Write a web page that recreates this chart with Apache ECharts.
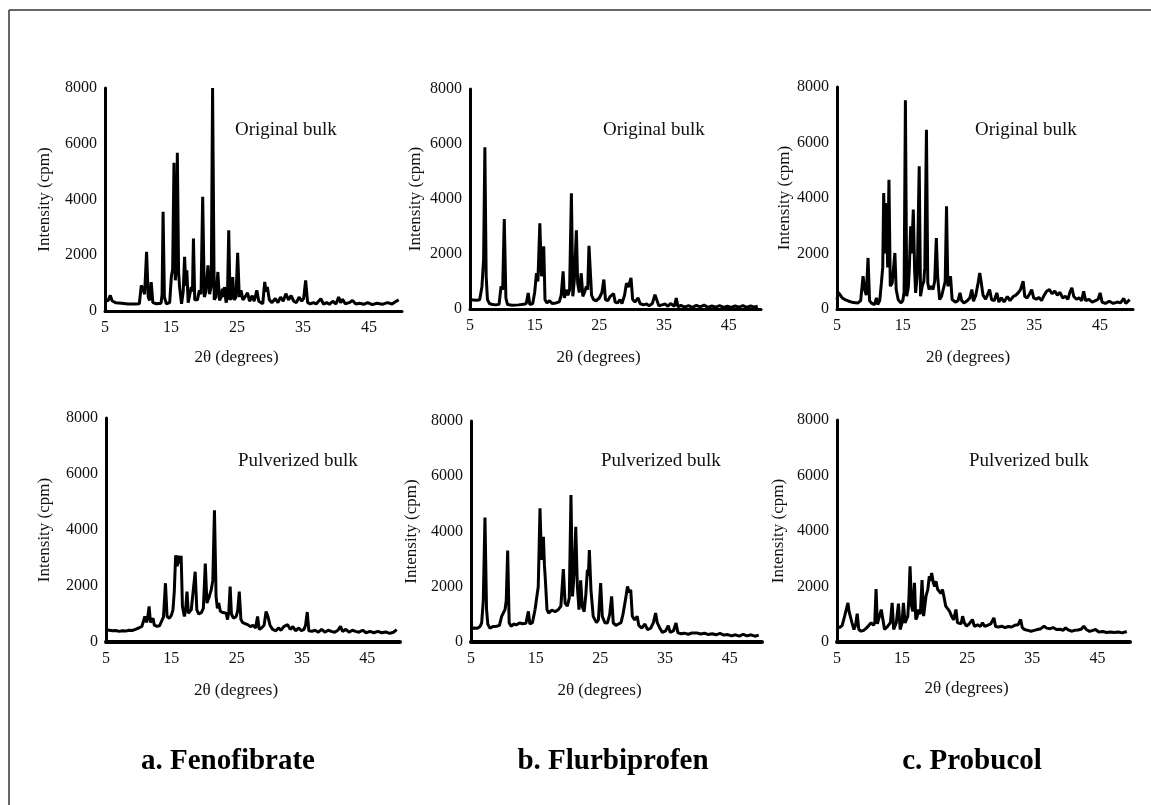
<!DOCTYPE html>
<html>
<head>
<meta charset="utf-8">
<title>XRD patterns</title>
<script src="https://cdn.jsdelivr.net/npm/echarts@6/dist/echarts.min.js"></script>
<style>
  html, body { margin: 0; padding: 0; background: #fff; }
  #chart { width: 1151px; height: 805px; }
</style>
</head>
<body>
<div id="chart"></div>
<script>
// x ticks and y ticks
const xTickLabels = [5, 15, 25, 35, 45];
const yTicks = [0, 2000, 4000, 6000, 8000];

const panelNotes = ['Original bulk', 'Original bulk', 'Original bulk', 'Pulverized bulk', 'Pulverized bulk', 'Pulverized bulk'];
const drugNames = ['a. Fenofibrate', 'b. Flurbiprofen', 'c. Probucol'];

// [2theta (deg), intensity (cpm)]
const fenoOrig = [[5,350],[5.5,380],[5.8,560],[6.1,360],[6.6,300],[7.5,280],[8.5,250],[9.5,250],[10.2,260],[10.5,920],[10.8,980],[11.0,600],[11.3,2120],[11.55,500],[11.75,380],[12.0,1040],[12.25,300],[12.8,260],[13.5,280],[13.65,600],[13.8,3560],[14.0,500],[14.3,260],[14.8,300],[15.05,1220],[15.25,1500],[15.45,5320],[15.65,1100],[15.8,1500],[15.96,5680],[16.15,1400],[16.3,860],[16.6,260],[16.85,700],[17.06,1940],[17.25,900],[17.4,1460],[17.6,300],[17.9,350],[18.07,860],[18.25,700],[18.4,2600],[18.6,400],[19.0,400],[19.3,740],[19.55,600],[19.8,4100],[20.05,500],[20.3,700],[20.6,1640],[20.85,600],[21.1,900],[21.3,8000],[21.55,400],[21.8,500],[22.1,1400],[22.35,380],[22.6,500],[22.8,800],[23.0,500],[23.1,860],[23.35,300],[23.55,500],[23.75,2900],[23.95,400],[24.15,500],[24.35,1220],[24.55,400],[24.85,500],[25.1,2090],[25.35,500],[25.6,740],[25.9,400],[26.2,500],[26.6,650],[26.9,350],[27.3,550],[27.6,350],[28.0,740],[28.3,350],[28.6,300],[28.9,260],[29.2,1040],[29.4,700],[29.6,860],[29.9,400],[30.3,300],[30.8,450],[31.2,300],[31.6,500],[32.0,350],[32.4,620],[32.8,400],[33.2,550],[33.6,350],[34.0,300],[34.4,500],[34.8,350],[35.1,450],[35.4,1100],[35.7,300],[36.1,260],[36.6,300],[37.0,250],[37.7,440],[38.1,250],[38.6,300],[39.0,240],[39.5,350],[40.0,250],[40.4,500],[40.7,300],[41.0,420],[41.4,260],[42.0,300],[42.5,380],[43.0,250],[43.6,280],[44.2,240],[44.8,300],[45.5,230],[46.2,280],[47.0,240],[47.8,300],[48.5,250],[49.0,330],[49.5,400]];

const flurOrig = [[5,340],[5.5,330],[6.0,320],[6.5,340],[6.85,820],[7.1,1800],[7.3,5880],[7.5,1200],[7.7,340],[8.0,200],[8.5,160],[9.0,150],[9.5,170],[9.8,820],[10.05,700],[10.3,3270],[10.55,400],[10.8,160],[11.5,140],[12.5,150],[13.3,170],[13.7,200],[14.0,580],[14.25,160],[14.7,200],[15.0,600],[15.28,1300],[15.5,1000],[15.8,3120],[16.05,1190],[16.2,1400],[16.4,2280],[16.6,340],[16.9,220],[17.3,300],[17.7,200],[18.3,220],[18.8,260],[19.1,500],[19.4,1370],[19.6,400],[19.9,700],[20.15,500],[20.4,700],[20.68,4210],[20.9,460],[21.15,1100],[21.45,2860],[21.65,940],[21.9,600],[22.2,1300],[22.45,460],[22.7,600],[23.0,820],[23.2,700],[23.4,2300],[23.6,2280],[23.8,500],[24.1,340],[24.5,300],[25.0,400],[25.4,600],[25.7,1070],[25.95,340],[26.3,300],[26.7,460],[27.0,520],[27.2,560],[27.45,250],[27.8,220],[28.2,340],[28.5,200],[28.9,500],[29.2,940],[29.5,800],[29.9,1130],[30.15,350],[30.5,250],[31.0,400],[31.3,200],[31.8,150],[32.3,180],[32.7,120],[33.2,200],[33.6,520],[33.9,460],[34.2,120],[34.7,150],[35.2,180],[35.6,100],[36.0,200],[36.6,100],[36.9,400],[37.15,80],[37.6,130],[38.2,70],[38.8,120],[39.4,60],[40.0,130],[40.6,80],[41.2,140],[41.8,60],[42.4,110],[43.0,70],[43.6,120],[44.2,60],[44.8,100],[45.4,60],[46.0,110],[46.6,70],[47.2,120],[47.8,60],[48.4,110],[49.0,70],[49.5,100]];

const probOrig = [[5,340],[5.2,600],[5.5,580],[5.8,400],[6.2,340],[6.8,280],[7.5,230],[8.2,220],[8.6,300],[8.96,1180],[9.2,700],[9.45,500],[9.72,1840],[9.95,300],[10.3,200],[10.7,160],[11.0,400],[11.2,160],[11.5,300],[11.75,940],[11.95,1500],[12.1,4180],[12.3,2000],[12.5,3820],[12.7,1500],[12.9,4660],[13.1,820],[13.4,940],[13.6,1000],[13.8,2020],[14.0,700],[14.3,340],[14.7,220],[15.0,300],[15.2,600],[15.4,7520],[15.6,460],[15.85,800],[16.0,1500],[16.2,2980],[16.35,2000],[16.6,3580],[16.8,1420],[16.95,580],[17.2,1200],[17.5,5140],[17.7,460],[17.95,820],[18.2,1000],[18.35,1500],[18.6,6460],[18.8,940],[19.0,700],[19.3,820],[19.6,700],[19.85,1000],[20.1,2560],[20.3,1180],[20.6,340],[20.9,460],[21.2,400],[21.45,1000],[21.65,3700],[21.85,820],[22.05,800],[22.26,1180],[22.5,340],[23.0,250],[23.4,300],[23.7,580],[23.95,300],[24.3,220],[24.8,300],[25.2,400],[25.5,700],[25.75,280],[26.1,500],[26.45,940],[26.7,1300],[26.9,1000],[27.2,500],[27.6,350],[27.9,400],[28.2,700],[28.5,340],[28.9,300],[29.3,580],[29.6,250],[30.0,400],[30.4,250],[30.9,450],[31.3,300],[31.8,450],[32.2,500],[32.6,600],[32.9,700],[33.3,1000],[33.55,450],[33.9,400],[34.3,550],[34.6,700],[34.9,400],[35.3,350],[35.7,420],[36.1,300],[36.5,500],[36.9,650],[37.3,700],[37.7,550],[38.1,650],[38.5,500],[38.9,600],[39.3,400],[39.7,460],[40.1,350],[40.4,600],[40.7,760],[41.0,450],[41.4,350],[41.8,400],[42.2,300],[42.5,640],[42.8,300],[43.3,350],[43.8,250],[44.3,300],[44.7,350],[45.0,580],[45.3,250],[45.8,200],[46.4,280],[47.0,200],[47.6,250],[48.1,220],[48.6,380],[48.9,200],[49.5,340]];

const fenoPulv = [[5,440],[5.5,420],[6.0,400],[6.5,410],[7.0,380],[7.5,400],[8.0,390],[8.5,420],[9.0,410],[9.5,450],[10.0,500],[10.5,560],[10.8,800],[10.94,910],[11.2,700],[11.4,900],[11.6,1270],[11.8,700],[12.0,650],[12.2,850],[12.4,600],[12.8,560],[13.2,580],[13.5,620],[13.8,900],[14.1,2100],[14.35,910],[14.7,850],[15.0,950],[15.25,1150],[15.45,1800],[15.66,3100],[15.9,2700],[16.1,3080],[16.3,2800],[16.5,3080],[16.7,1270],[17.0,910],[17.2,1200],[17.4,1800],[17.6,1030],[17.85,1000],[18.05,1150],[18.3,1200],[18.65,2510],[18.9,1150],[19.2,1000],[19.6,1050],[19.9,1200],[20.2,2800],[20.45,1390],[20.8,1620],[21.1,1860],[21.35,2200],[21.6,4700],[21.85,1620],[22.05,1200],[22.26,1390],[22.5,1100],[22.9,1050],[23.2,1100],[23.4,1030],[23.6,800],[23.8,1100],[24.0,1980],[24.2,1000],[24.5,850],[24.9,900],[25.15,1100],[25.4,1800],[25.65,800],[25.9,700],[26.3,650],[26.7,620],[27.1,550],[27.5,600],[27.9,500],[28.2,910],[28.45,450],[28.8,500],[29.2,600],[29.5,1090],[29.8,900],[30.1,600],[30.5,450],[31.0,400],[31.4,500],[31.8,420],[32.2,550],[32.8,620],[33.2,450],[33.6,550],[34.0,400],[34.5,500],[34.9,400],[35.3,450],[35.55,600],[35.8,1070],[36.05,400],[36.5,380],[37.0,420],[37.5,350],[38.0,450],[38.5,350],[39.0,420],[39.5,380],[40.0,350],[40.5,420],[40.9,560],[41.2,380],[41.7,450],[42.2,350],[42.7,420],[43.2,380],[43.7,350],[44.3,420],[44.8,330],[45.4,380],[46.0,330],[46.6,380],[47.2,330],[47.8,360],[48.4,310],[49.0,350],[49.5,440]];

const flurPulv = [[5,500],[5.5,510],[6.0,500],[6.4,560],[6.65,690],[6.9,1500],[7.16,4510],[7.4,1200],[7.6,640],[7.94,500],[8.4,560],[9.0,570],[9.4,600],[9.74,930],[10.0,900],[10.26,1170],[10.45,1500],[10.67,3310],[10.9,700],[11.2,570],[11.6,650],[12.0,620],[12.5,690],[13.0,660],[13.5,680],[13.87,1110],[14.1,650],[14.5,700],[14.9,1170],[15.15,1590],[15.4,2000],[15.67,4840],[15.9,2970],[16.05,3000],[16.2,3810],[16.35,2800],[16.5,2250],[16.75,1170],[17.0,1050],[17.5,1150],[18.0,1100],[18.5,1170],[18.9,1300],[19.28,2640],[19.55,1410],[19.9,1300],[20.2,1600],[20.46,5320],[20.7,1650],[20.95,2500],[21.2,4170],[21.45,2000],[21.7,1170],[21.96,2230],[22.2,1290],[22.5,1100],[22.75,1700],[23.0,2610],[23.15,2400],[23.3,3330],[23.55,1890],[23.9,930],[24.4,700],[24.7,800],[25.05,2130],[25.3,930],[25.7,700],[26.1,690],[26.45,1000],[26.75,1650],[27.0,690],[27.4,600],[27.8,650],[28.2,700],[28.5,1000],[28.8,1410],[29.0,1700],[29.2,2010],[29.45,1800],[29.7,1890],[29.95,930],[30.3,800],[30.7,930],[30.95,600],[31.4,500],[31.9,650],[32.3,450],[32.8,500],[33.2,700],[33.55,1050],[33.8,700],[34.2,500],[34.6,350],[35.1,400],[35.5,590],[35.8,350],[36.3,400],[36.7,690],[37.0,330],[37.5,300],[38.0,320],[38.6,280],[39.2,330],[39.9,330],[40.5,290],[41.1,320],[41.7,270],[42.3,300],[42.9,260],[43.5,310],[44.1,250],[44.7,270],[45.3,220],[45.9,260],[46.5,210],[47.1,280],[47.7,220],[48.3,260],[48.9,210],[49.5,250]];

const probPulv = [[5,570],[5.4,520],[5.8,600],[6.17,930],[6.4,900],[6.68,1410],[6.85,1100],[7.04,1170],[7.3,700],[7.6,450],[7.85,600],[8.1,1020],[8.35,450],[8.7,390],[9.1,420],[9.5,500],[9.9,600],[10.25,690],[10.6,600],[10.8,700],[11.0,1910],[11.2,650],[11.5,600],[11.8,1170],[12.05,1100],[12.3,450],[12.8,570],[13.2,700],[13.47,1410],[13.7,450],[14.1,690],[14.44,1380],[14.7,450],[15.0,700],[15.2,1410],[15.45,690],[15.87,930],[16.05,1600],[16.22,2730],[16.45,1290],[16.65,1100],[16.9,2130],[17.1,810],[17.3,900],[17.5,1170],[17.8,1000],[18.06,2230],[18.3,930],[18.67,1650],[18.95,1900],[19.18,2370],[19.35,2200],[19.54,2490],[19.8,2130],[20.0,2000],[20.2,2190],[20.45,1900],[20.7,1830],[20.95,1750],[21.2,1890],[21.45,1600],[21.7,1290],[22.0,1300],[22.3,1100],[22.6,930],[22.9,800],[23.27,1170],[23.5,700],[23.8,750],[24.05,650],[24.29,930],[24.55,700],[24.9,570],[25.3,650],[25.8,810],[26.1,560],[26.6,620],[27.0,560],[27.35,690],[27.7,560],[28.1,600],[28.6,650],[29.1,870],[29.35,560],[29.8,540],[30.3,570],[30.8,520],[31.3,560],[31.8,540],[32.3,600],[32.8,620],[33.2,810],[33.45,520],[33.8,450],[34.3,420],[34.8,390],[35.3,420],[35.8,450],[36.3,480],[36.8,570],[37.2,500],[37.7,480],[38.2,520],[38.7,450],[39.3,460],[39.7,420],[40.1,510],[40.5,440],[41.0,390],[41.5,420],[42.0,430],[42.5,460],[42.9,570],[43.3,450],[43.8,380],[44.3,420],[44.7,450],[45.2,360],[45.8,380],[46.4,340],[47.0,360],[47.6,340],[48.2,360],[48.8,330],[49.5,380]];

const allSeries = [fenoOrig, flurOrig, probOrig, fenoPulv, flurPulv, probPulv];

// panel layout (pixels)
const panels = [
  { left: 105, top: 88, width: 297, height: 223, yGap: 52, xGap: 38, xw: 3, note: [235, 132] },
  { left: 470, top: 89, width: 291, height: 220, yGap: 46, xGap: 40, xw: 3, note: [603, 132] },
  { left: 837, top: 87, width: 296, height: 222, yGap: 42, xGap: 40, xw: 3, note: [975, 132] },
  { left: 106, top: 418, width: 294, height: 224, yGap: 53, xGap: 40, xw: 4, note: [238, 463] },
  { left: 471, top: 421, width: 291, height: 221, yGap: 51, xGap: 40, xw: 4, note: [601, 463] },
  { left: 837, top: 420, width: 293, height: 222, yGap: 50, xGap: 38, xw: 4, note: [969, 463] }
];

const FONT = '"Liberation Serif", "Times New Roman", serif';

const chart = echarts.init(document.getElementById('chart'), null, { renderer: 'canvas' });

const option = {
  animation: false,
  backgroundColor: '#fff',
  grid: panels.map(p => ({ left: p.left, top: p.top, width: p.width, height: p.height })),
  xAxis: panels.map((p, i) => ({
    type: 'value',
    gridIndex: i,
    min: 5,
    max: 50,
    interval: 5,
    name: '2θ (degrees)',
    nameLocation: 'middle',
    nameGap: p.xGap,
    nameTextStyle: { fontFamily: FONT, fontSize: 17, color: '#111', padding: [0, 34, 0, 0] },
    axisLine: { show: true, lineStyle: { color: '#000', width: p.xw } },
    axisTick: { show: false },
    splitLine: { show: false },
    axisLabel: {
      fontFamily: FONT, fontSize: 16, color: '#111', margin: 9,
      formatter: v => xTickLabels.includes(v) ? String(v) : ''
    }
  })),
  yAxis: panels.map((p, i) => ({
    type: 'value',
    gridIndex: i,
    min: yTicks[0],
    max: yTicks[yTicks.length - 1],
    interval: 2000,
    name: 'Intensity (cpm)',
    nameLocation: 'middle',
    nameGap: p.yGap,
    nameTextStyle: { fontFamily: FONT, fontSize: 17, color: '#111' },
    axisLine: { show: true, lineStyle: { color: '#000', width: 3 } },
    axisTick: { show: false },
    splitLine: { show: false },
    axisLabel: { fontFamily: FONT, fontSize: 16, color: '#111', margin: 8, formatter: v => String(v) }
  })),
  series: allSeries.map((d, i) => ({
    type: 'line',
    xAxisIndex: i,
    yAxisIndex: i,
    data: d,
    showSymbol: false,
    symbol: 'none',
    lineStyle: { color: '#000', width: 3 },
    silent: true
  })),
  graphic: [
    // frame lines
    { type: 'line', shape: { x1: 9, y1: 10, x2: 1151, y2: 10 }, style: { stroke: '#333', lineWidth: 1.5 } },
    { type: 'line', shape: { x1: 9, y1: 10, x2: 9, y2: 805 }, style: { stroke: '#333', lineWidth: 1.5 } },
    ...panels.map((p, i) => ({
      type: 'text',
      left: p.note[0],
      top: p.note[1] - 11,
      style: { text: panelNotes[i], font: '19px ' + FONT, fill: '#111' }
    })),
    ...drugNames.map((t, i) => ({
      type: 'text',
      x: [228, 613, 972][i],
      y: 762,
      style: { text: t, font: 'bold 29px ' + FONT, fill: '#000', textAlign: 'center', textVerticalAlign: 'middle' }
    }))
  ]
};

chart.setOption(option);
</script>
</body>
</html>
